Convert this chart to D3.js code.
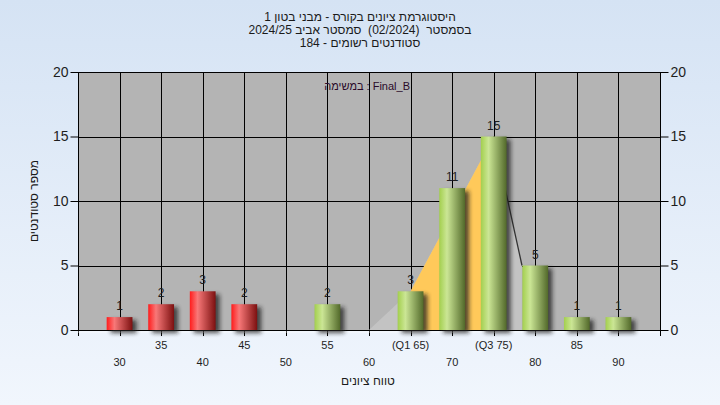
<!DOCTYPE html>
<html>
<head>
<meta charset="utf-8">
<script src="https://cdn.jsdelivr.net/npm/d3@7"></script>
<style>
body{margin:0;padding:0;overflow:hidden;}
svg{display:block;font-family:"Liberation Sans",Arial,sans-serif;}
text{white-space:pre;}
</style>
</head>
<body>
<div id="chart"></div>
<script>
// data
var grades = [30,35,40,45,50,55,60,65,70,75,80,85,90];
var gradeLabels = ["30","35","40","45","50","55","60","(Q1 65)","70","(Q3 75)","80","85","90"];
var counts = [1,2,3,2,0,2,0,3,11,15,5,1,1];
var yTicks = [0,5,10,15,20];
// background distribution shape (grade, count)
var curveGrades = [60,65,75,78.4];
var curveCounts = [0,3,15,5];
var q1 = 65, q3 = 75;
var passGrade = 55;

var titleLines = ["היסטוגרמת ציונים בקורס - מבני בטון 1",
                  "בסמסטר  (02/2024)  סמסטר אביב 2024/25",
                  "סטודנטים רשומים - 184"];
var taskLabel = "במשימה : Final_B";
var xTitle = "טווח ציונים";
var yTitle = "מספר סטודנטים";

var W = 720, H = 405;
var pLeft = 78, pRight = 660, pTop = 72, pBottom = 330;

var svg = d3.select('#chart').append('svg').attr('width',W).attr('height',H);
var defs = svg.append('defs');

var bg = defs.append('linearGradient').attr('id','bg').attr('x1',0).attr('y1',0).attr('x2',0).attr('y2',1);
bg.append('stop').attr('offset','0%').attr('stop-color','#d5e3f4');
bg.append('stop').attr('offset','100%').attr('stop-color','#f1f6fd');

function barGrad(id, c0, c1, c2){
    var g = defs.append('linearGradient').attr('id',id).attr('x1',0).attr('y1',0).attr('x2',1).attr('y2',0);
    g.append('stop').attr('offset','0%').attr('stop-color',c0);
    g.append('stop').attr('offset','30%').attr('stop-color',c1);
    g.append('stop').attr('offset','100%').attr('stop-color',c2);
}
barGrad('green','#a3cf4e','#cbe695','#52692a');
barGrad('red','#ff1c1c','#f87878','#7c1010');

defs.append('filter').attr('id','blur').attr('x','-50%').attr('y','-50%').attr('width','200%').attr('height','200%')
    .append('feGaussianBlur').attr('stdDeviation',2);

svg.append('rect').attr('width',W).attr('height',H).attr('fill','url(#bg)');

var x = d3.scalePoint().domain(grades).range([pLeft,pRight]).padding(1);
var xl = d3.scaleLinear().domain([grades[0],grades[grades.length-1]]).range([x(grades[0]),x(grades[grades.length-1])]);
var y = d3.scaleLinear().domain([0,20]).range([pBottom,pTop]);
var bw = x.step()*0.62;

// plot background
svg.append('rect').attr('x',pLeft).attr('y',pTop).attr('width',pRight-pLeft).attr('height',pBottom-pTop).attr('fill','#b4b4b4');

// grid
var grid = svg.append('g').attr('stroke','#000').attr('stroke-width',1);
grid.selectAll('line.h').data(yTicks).enter().append('line')
    .attr('x1',pLeft).attr('x2',pRight)
    .attr('y1',function(d){return Math.round(y(d))+0.5}).attr('y2',function(d){return Math.round(y(d))+0.5});
grid.selectAll('line.v').data([pLeft].concat(grades.map(function(g){return x(g)})).concat([pRight])).enter().append('line')
    .attr('x1',function(d){return Math.round(d)+0.5}).attr('x2',function(d){return Math.round(d)+0.5})
    .attr('y1',pTop).attr('y2',pBottom+6);

// distribution area
var pts = curveGrades.map(function(g,i){return [xl(g), y(curveCounts[i])]});
var outer = [[xl(curveGrades[0]),y(0)]].concat(pts).concat([[xl(curveGrades[curveGrades.length-1]),y(0)]]);
svg.append('path').attr('d',d3.line()(outer)).attr('fill','#c3c3c3');
var inner = curveGrades.map(function(g,i){return {g:g,c:curveCounts[i]}})
    .filter(function(d){return d.g>=q1 && d.g<=q3});
var innerPts = [[xl(q1),y(0)]].concat(inner.map(function(d){return [xl(d.g),y(d.c)]})).concat([[xl(q3),y(0)]]);
svg.append('path').attr('d',d3.line()(innerPts)).attr('fill','#ffc95a');
var tail = curveGrades.map(function(g,i){return {g:g,c:curveCounts[i]}}).filter(function(d){return d.g>=q3});
svg.append('path').attr('d',d3.line().x(function(d){return xl(d.g)}).y(function(d){return y(d.c)})(tail))
    .attr('fill','none').attr('stroke','#333').attr('stroke-width',1.3);

// axis base line
svg.append('line').attr('x1',pLeft).attr('x2',pRight).attr('y1',pBottom+0.5).attr('y2',pBottom+0.5).attr('stroke','#000');
svg.append('line').attr('x1',pLeft).attr('x2',pRight).attr('y1',pBottom+2).attr('y2',pBottom+2).attr('stroke','#fff').attr('stroke-opacity',0.6);

var barData = grades.map(function(g,i){return {g:g,c:counts[i],label:gradeLabels[i],i:i}});
var shown = barData.filter(function(d){return d.c>0});

// shadows
svg.append('g').selectAll('rect').data(shown).enter().append('rect')
    .attr('x',function(d){return x(d.g)-bw/2+4})
    .attr('y',function(d){return y(d.c)+3})
    .attr('width',bw).attr('height',function(d){return pBottom-y(d.c)})
    .attr('fill','#1a1a1a').attr('opacity',0.75).attr('filter','url(#blur)');

// bars
svg.append('g').selectAll('rect').data(shown).enter().append('rect')
    .attr('x',function(d){return x(d.g)-bw/2})
    .attr('y',function(d){return y(d.c)})
    .attr('width',bw).attr('height',function(d){return pBottom-y(d.c)})
    .attr('fill',function(d){return d.g>=passGrade ? 'url(#green)' : 'url(#red)'});

// value labels
svg.append('g').selectAll('text').data(shown).enter().append('text')
    .attr('x',function(d){return x(d.g)})
    .attr('y',function(d){return y(d.c)-7})
    .attr('text-anchor','middle').attr('font-size',12).attr('fill','#1e1e1e')
    .text(function(d){return d.c});

// x tick labels, two rows
svg.append('g').selectAll('text').data(barData).enter().append('text')
    .attr('x',function(d){return x(d.g)})
    .attr('y',function(d){return d.i%2==1 ? 349 : 366})
    .attr('text-anchor','middle').attr('font-size',11).attr('fill','#1e1e1e')
    .text(function(d){return d.label});

// y axes
var yl = d3.axisLeft(y).tickValues(yTicks).tickSize(8).tickPadding(2);
var yr = d3.axisRight(y).tickValues(yTicks).tickSize(8).tickPadding(2);
[ [yl,pLeft], [yr,pRight] ].forEach(function(a){
    var g = svg.append('g').attr('transform','translate('+(a[1]+0.5)+',0)').call(a[0]);
    g.select('.domain').remove();
    g.selectAll('line').attr('stroke','#000');
    g.selectAll('text').attr('font-size',14).attr('fill','#1e1e1e').attr('font-family','"Liberation Sans",Arial,sans-serif');
});
svg.append('line').attr('x1',pLeft+0.5).attr('x2',pLeft+0.5).attr('y1',pTop).attr('y2',pBottom).attr('stroke','#000');
svg.append('line').attr('x1',pRight+0.5).attr('x2',pRight+0.5).attr('y1',pTop).attr('y2',pBottom).attr('stroke','#000');

// titles
svg.append('g').selectAll('text').data(titleLines).enter().append('text')
    .attr('x',W/2).attr('y',function(d,i){return 21+i*13})
    .attr('text-anchor','middle').attr('direction','rtl').attr('font-size',12).attr('fill','#1a1a1a')
    .text(function(d){return d});

svg.append('text').attr('x',410).attr('y',90).attr('text-anchor','end')
    .attr('font-size',11).attr('fill','#2a0a2a').text(taskLabel);

svg.append('text').attr('x',368).attr('y',385).attr('text-anchor','middle').attr('direction','rtl')
    .attr('font-size',12).attr('fill','#1a1a1a').text(xTitle);

svg.append('text').attr('transform','translate(38,201) rotate(-90)').attr('text-anchor','middle').attr('direction','rtl')
    .attr('font-size',12).attr('fill','#1a1a1a').text(yTitle);
</script>
</body>
</html>
